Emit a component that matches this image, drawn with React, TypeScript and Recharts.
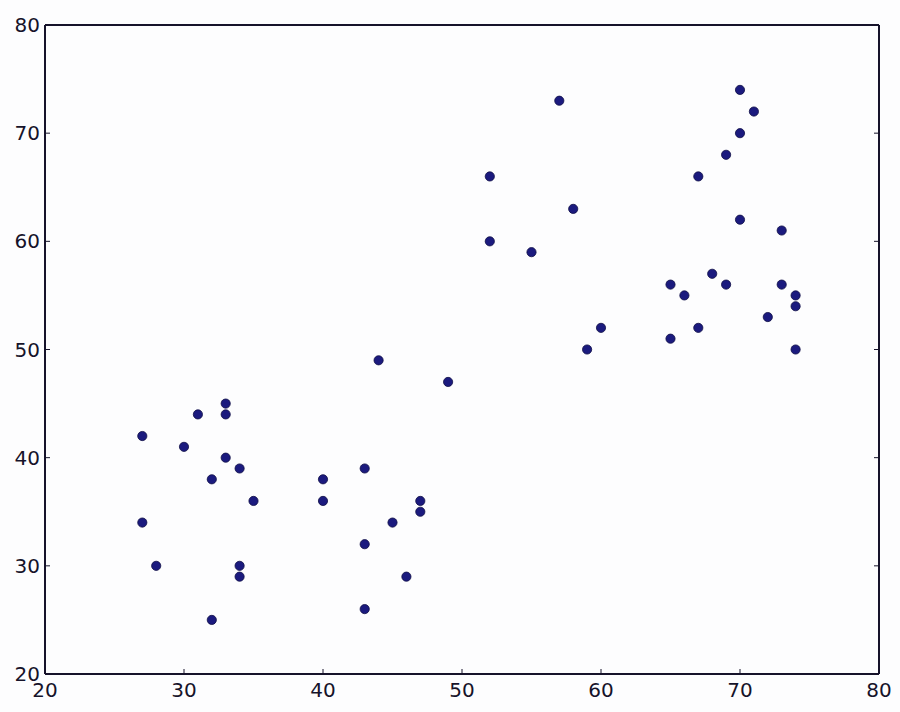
import { ScatterChart, Scatter, XAxis, YAxis } from 'recharts';

// x / y values, point by point
const xValues = [
  27, 27, 28, 30, 31, 33, 33, 33, 32, 34, 35, 34, 34, 32,
  40, 40, 43, 43, 43, 44, 45, 46, 47, 47, 49,
  52, 52, 55, 57, 58, 59, 60,
  65, 65, 66, 67, 67, 68, 69, 69, 70, 70, 70, 71, 72, 73, 73, 74, 74, 74,
];
const yValues = [
  42, 34, 30, 41, 44, 45, 44, 40, 38, 39, 36, 30, 29, 25,
  38, 36, 39, 32, 26, 49, 34, 29, 36, 35, 47,
  66, 60, 59, 73, 63, 50, 52,
  56, 51, 55, 66, 52, 57, 68, 56, 74, 70, 62, 72, 53, 61, 56, 55, 54, 50,
];
const tickValues = [20, 30, 40, 50, 60, 70, 80];

const points = xValues.map((x, i) => ({ x, y: yValues[i] }));

const INK = '#16132a';
const FONT = 'DejaVu Sans, sans-serif';

const BottomTick = (props: any) => {
  const { x, y, payload } = props;
  return (
    <g>
      <line x1={x} y1={y} x2={x} y2={y - 5} stroke={INK} strokeWidth={1} />
      <text x={x} y={y + 23} textAnchor="middle" fontSize={20} fontFamily={FONT} fill={INK}>
        {payload.value}
      </text>
    </g>
  );
};

const LeftTick = (props: any) => {
  const { x, y, payload } = props;
  return (
    <g>
      <line x1={x} y1={y} x2={x + 5} y2={y} stroke={INK} strokeWidth={1} />
      <text x={x - 5} y={y + 7} textAnchor="end" fontSize={20} fontFamily={FONT} fill={INK}>
        {payload.value}
      </text>
    </g>
  );
};

const TopTick = (props: any) => {
  const { x, y } = props;
  return <line x1={x} y1={y} x2={x} y2={y + 5} stroke={INK} strokeWidth={1} />;
};

const RightTick = (props: any) => {
  const { x, y } = props;
  return <line x1={x} y1={y} x2={x - 5} y2={y} stroke={INK} strokeWidth={1} />;
};

const Dot = (props: any) => {
  const { cx, cy } = props;
  return <circle cx={cx} cy={cy} r={4.6} fill="#1b1a7e" stroke="#0f0e45" strokeWidth={0.8} />;
};

export default function App() {
  return (
    <div style={{ position: 'absolute', left: 0, top: 0, width: 900, height: 712, background: '#fdfdfe' }}>
      <ScatterChart width={900} height={712} margin={{ top: 24, right: 20, bottom: 37, left: 44 }}>
        <XAxis
          type="number"
          dataKey="x"
          domain={[20, 80]}
          ticks={tickValues}
          height={1}
          tickSize={0}
          tickMargin={0}
          tickLine={false}
          axisLine={{ stroke: INK, strokeWidth: 2 }}
          tick={<BottomTick />}
          allowDataOverflow
        />
        <XAxis
          xAxisId="top"
          orientation="top"
          type="number"
          domain={[20, 80]}
          ticks={tickValues}
          height={1}
          tickSize={0}
          tickMargin={0}
          tickLine={false}
          axisLine={{ stroke: INK, strokeWidth: 2 }}
          tick={<TopTick />}
          allowDataOverflow
        />
        <YAxis
          type="number"
          dataKey="y"
          domain={[20, 80]}
          ticks={tickValues}
          width={1}
          tickSize={0}
          tickMargin={0}
          tickLine={false}
          axisLine={{ stroke: INK, strokeWidth: 2 }}
          tick={<LeftTick />}
          allowDataOverflow
        />
        <YAxis
          yAxisId="right"
          orientation="right"
          type="number"
          domain={[20, 80]}
          ticks={tickValues}
          width={1}
          tickSize={0}
          tickMargin={0}
          tickLine={false}
          axisLine={{ stroke: INK, strokeWidth: 2 }}
          tick={<RightTick />}
          allowDataOverflow
        />
        <Scatter data={points} shape={<Dot />} isAnimationActive={false} />
      </ScatterChart>
    </div>
  );
}
